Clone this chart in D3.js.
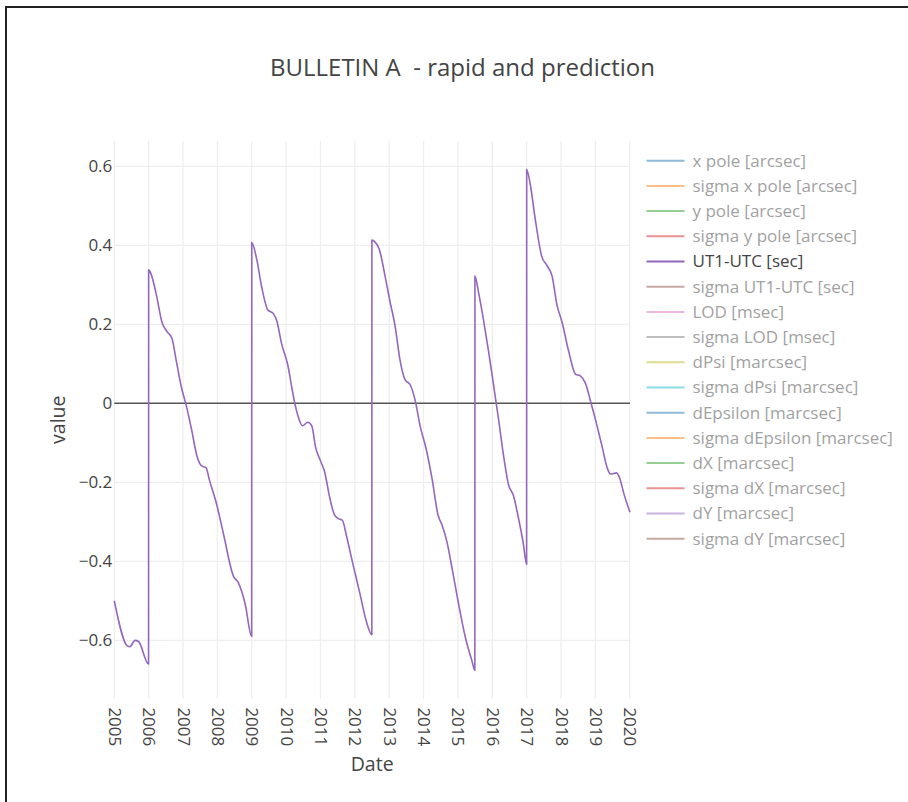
<!DOCTYPE html>
<html>
<head>
<meta charset="utf-8">
<script src="https://cdn.jsdelivr.net/npm/d3@7"></script>
<style>
  body { margin: 0; background: #fff; }
  #frame { position: absolute; left: 5px; top: 6px; right: -10px; bottom: -10px;
           border-top: 2px solid #222; border-left: 2px solid #222; }
  svg { position: absolute; left: 0; top: 0; font-family: "Open Sans", sans-serif; }
</style>
</head>
<body>
<div id="frame"></div>
<svg id="chart" width="908" height="802"></svg>
<script>
'use strict';

// UT1-UTC [sec] (leap seconds give the vertical jumps)
const dates = [
  '2005-01-01', '2005-05-20', '2005-06-15', '2005-08-10', '2005-09-16', '2005-12-31',
  '2006-01-01', '2006-01-27', '2006-03-22', '2006-05-23', '2006-07-13', '2006-09-06',
  '2006-10-20', '2006-12-14', '2007-02-06', '2007-04-02', '2007-05-30', '2007-07-16',
  '2007-09-02', '2007-10-12', '2007-12-24', '2008-03-03', '2008-06-21', '2008-08-11',
  '2008-10-23', '2008-12-31',
  '2009-01-01', '2009-02-24', '2009-04-16', '2009-06-21', '2009-08-18', '2009-09-24',
  '2009-11-14', '2010-01-19', '2010-03-08', '2010-04-06', '2010-05-05', '2010-06-25',
  '2010-08-19', '2010-10-01', '2010-11-10', '2010-12-28', '2011-02-15', '2011-04-08',
  '2011-05-29', '2011-07-05', '2011-08-22', '2011-10-05', '2011-12-14', '2012-02-24',
  '2012-05-04', '2012-06-30',
  '2012-07-01', '2012-08-04', '2012-09-17', '2012-11-18', '2013-01-08', '2013-03-04',
  '2013-04-28', '2013-06-18', '2013-08-12', '2013-10-05', '2013-11-25', '2014-01-28',
  '2014-04-02', '2014-06-03', '2014-07-17', '2014-09-06', '2014-10-31', '2015-01-08',
  '2015-03-18', '2015-05-30', '2015-06-30',
  '2015-07-01', '2015-08-08', '2015-09-28', '2015-11-22', '2016-01-12', '2016-03-07',
  '2016-04-28', '2016-06-22', '2016-08-12', '2016-10-06', '2016-11-26', '2016-12-31',
  '2017-01-01', '2017-02-06', '2017-04-02', '2017-06-10', '2017-08-04', '2017-09-28',
  '2017-11-18', '2018-01-12', '2018-03-22', '2018-06-03', '2018-07-28', '2018-09-17',
  '2018-11-10', '2019-01-19', '2019-03-15', '2019-05-09', '2019-06-10', '2019-08-15',
  '2019-09-20', '2019-10-30', '2020-01-04'
];
const ut1utc = [
  -0.500, -0.614, -0.616, -0.600, -0.603, -0.660,
  0.338, 0.327, 0.277, 0.205, 0.182, 0.164,
  0.110, 0.042, -0.007, -0.066, -0.134, -0.158,
  -0.163, -0.197, -0.255, -0.327, -0.438, -0.454,
  -0.508, -0.590,
  0.407, 0.363, 0.295, 0.236, 0.227, 0.209,
  0.151, 0.097, 0.033, -0.003, -0.030, -0.057,
  -0.048, -0.057, -0.111, -0.143, -0.174, -0.237,
  -0.282, -0.291, -0.296, -0.336, -0.409, -0.481,
  -0.553, -0.586,
  0.413, 0.408, 0.390, 0.322, 0.259, 0.196,
  0.106, 0.060, 0.047, 0.006, -0.057, -0.115,
  -0.192, -0.282, -0.309, -0.350, -0.418, -0.508,
  -0.589, -0.652, -0.676,
  0.322, 0.281, 0.214, 0.133, 0.051, -0.039,
  -0.129, -0.206, -0.233, -0.291, -0.355, -0.408,
  0.592, 0.557, 0.466, 0.372, 0.349, 0.322,
  0.250, 0.205, 0.133, 0.074, 0.069, 0.051,
  0.006, -0.057, -0.111, -0.165, -0.179, -0.176,
  -0.192, -0.228, -0.276
];

const legendNames = [
  'x pole [arcsec]', 'sigma x pole [arcsec]', 'y pole [arcsec]', 'sigma y pole [arcsec]',
  'UT1-UTC [sec]', 'sigma UT1-UTC [sec]', 'LOD [msec]', 'sigma LOD [msec]',
  'dPsi [marcsec]', 'sigma dPsi [marcsec]', 'dEpsilon [marcsec]', 'sigma dEpsilon [marcsec]',
  'dX [marcsec]', 'sigma dX [marcsec]', 'dY [marcsec]', 'sigma dY [marcsec]'
];
const colorway = ['#1f77b4', '#ff7f0e', '#2ca02c', '#d62728', '#9467bd',
                  '#8c564b', '#e377c2', '#7f7f7f', '#bcbd22', '#17becf'];
const visibleName = 'UT1-UTC [sec]';
const yTicks = [-0.6, -0.4, -0.2, 0, 0.2, 0.4, 0.6];

const svg = d3.select('#chart');
const parse = d3.timeParse('%Y-%m-%d');
const data = dates.map((d, i) => ({date: parse(d), value: ut1utc[i]}));

const plotLeft = 114.3, plotRight = 630, plotTop = 141, plotBottom = 698.4;

const x = d3.scaleTime()
    .domain(d3.extent(data, d => d.date))
    .range([plotLeft, plotRight]);
const y = d3.scaleLinear()
    .domain([-0.747, 0.664])
    .range([plotBottom, plotTop]);

// grid
const grid = svg.append('g');
grid.selectAll('.vgrid')
    .data(x.ticks(d3.timeYear.every(1)))
    .enter().append('line')
    .attr('x1', d => x(d)).attr('x2', d => x(d))
    .attr('y1', plotTop).attr('y2', plotBottom)
    .attr('stroke', '#eee').attr('stroke-width', 1.3);
grid.selectAll('.hgrid')
    .data(yTicks.filter(d => d !== 0))
    .enter().append('line')
    .attr('x1', plotLeft).attr('x2', plotRight)
    .attr('y1', d => y(d)).attr('y2', d => y(d))
    .attr('stroke', '#eee').attr('stroke-width', 1.3);

// zero line
svg.append('line')
    .attr('x1', plotLeft).attr('x2', plotRight)
    .attr('y1', y(0)).attr('y2', y(0))
    .attr('stroke', '#555').attr('stroke-width', 1.4);

// series
svg.append('path')
    .datum(data)
    .attr('fill', 'none')
    .attr('stroke', '#9467bd')
    .attr('stroke-width', 1.6)
    .attr('stroke-linejoin', 'round')
    .attr('d', d3.line().x(d => x(d.date)).y(d => y(d.value)).curve(d3.curveMonotoneX));

// y axis
const yAxis = svg.append('g')
    .attr('transform', `translate(${plotLeft - 2},0)`)
    .call(d3.axisLeft(y).tickValues(yTicks).tickSize(0).tickPadding(0)
        .tickFormat(d => d === 0 ? '0' : d3.format('.1f')(d)));
yAxis.select('.domain').remove();
yAxis.selectAll('text')
    .attr('font-family', '"Open Sans", sans-serif')
    .attr('font-size', 17).attr('fill', '#444');

// x axis
const xAxis = svg.append('g')
    .attr('transform', `translate(0,${plotBottom + 9})`)
    .call(d3.axisBottom(x).ticks(d3.timeYear.every(1)).tickSize(0).tickPadding(0)
        .tickFormat(d3.timeFormat('%Y')));
xAxis.select('.domain').remove();
xAxis.selectAll('text')
    .attr('font-family', '"Open Sans", sans-serif')
    .attr('font-size', 17).attr('fill', '#444')
    .attr('transform', 'rotate(90)')
    .attr('text-anchor', 'start')
    .attr('x', 0).attr('y', 0).attr('dy', '0.35em');

// axis titles
svg.append('text')
    .attr('x', (plotLeft + plotRight) / 2).attr('y', 771)
    .attr('text-anchor', 'middle')
    .attr('font-size', 19.5).attr('fill', '#444')
    .text('Date');
svg.append('text')
    .attr('transform', `translate(65,${(plotTop + plotBottom) / 2}) rotate(-90)`)
    .attr('text-anchor', 'middle')
    .attr('font-size', 19.5).attr('fill', '#444')
    .text('value');

// title
svg.append('text')
    .attr('x', 462.5).attr('y', 76)
    .attr('text-anchor', 'middle')
    .attr('font-size', 24).attr('fill', '#444')
    .style('white-space', 'pre')
    .text('BULLETIN A  - rapid and prediction');

// legend
const legend = svg.append('g')
    .selectAll('.legend')
    .data(legendNames)
    .enter().append('g')
    .attr('transform', (d, i) => `translate(646.5,${160.7 + i * 25.2})`)
    .attr('opacity', d => d === visibleName ? 1 : 0.5);
legend.append('line')
    .attr('x1', 0).attr('x2', 38)
    .attr('stroke', (d, i) => colorway[i % colorway.length])
    .attr('stroke-width', 2);
legend.append('text')
    .attr('x', 46).attr('dy', '0.35em')
    .attr('font-size', 17).attr('fill', '#444')
    .text(d => d);
</script>
</body>
</html>
